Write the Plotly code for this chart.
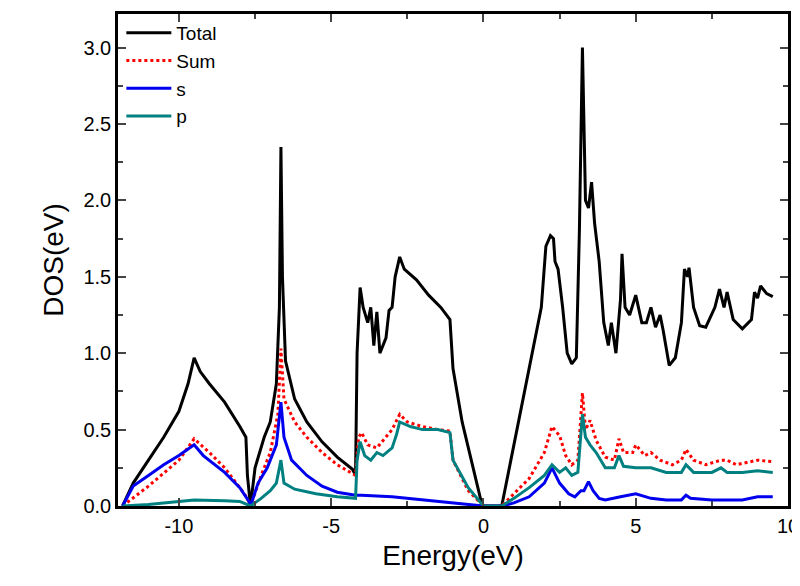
import plotly.graph_objects as go

# energy grids and DOS values
total_x = [-11.85, -11.5, -11, -10.5, -10, -9.7, -9.5, -9.3, -9, -8.5, -8, -7.8, -7.75, -7.65,
           -7.5, -7.2, -7.0, -6.8, -6.7, -6.65, -6.6, -6.5, -6.2, -5.8, -5.3, -4.8, -4.3, -4.2,
           -4.15, -4.05, -3.95, -3.8, -3.7, -3.6, -3.5, -3.4, -3.2, -3.1, -3.0, -2.9, -2.75, -2.6,
           -2.2, -1.8, -1.4, -1.1, -1.0, -0.7, -0.4, -0.1, 0, 0.6, 0.7, 1.0, 1.3, 1.6, 1.9, 2.05,
           2.2, 2.3, 2.35, 2.45, 2.6, 2.75, 2.9, 3.05, 3.15, 3.25, 3.35, 3.45, 3.55, 3.65, 3.8,
           3.95, 4.1, 4.2, 4.35, 4.5, 4.55, 4.65, 4.8, 5.0, 5.2, 5.35, 5.5, 5.65, 5.8, 5.9, 6.1,
           6.3, 6.5, 6.6, 6.7, 6.75, 6.9, 7.1, 7.3, 7.6, 7.75, 7.9, 8.0, 8.2, 8.5, 8.8, 8.9, 9.0,
           9.1, 9.3, 9.5]
total_y = [0, 0.15, 0.3, 0.45, 0.62, 0.8, 0.97, 0.88, 0.8, 0.68, 0.52, 0.45, 0.2, 0,
           0.25, 0.45, 0.55, 0.8, 1.3, 2.35, 1.5, 0.95, 0.7, 0.55, 0.42, 0.32, 0.24, 0.2,
           1.0, 1.43, 1.3, 1.2, 1.3, 1.05, 1.27, 1.0, 1.1, 1.28, 1.3, 1.5, 1.63, 1.55,
           1.48, 1.38, 1.3, 1.22, 0.9, 0.55, 0.3, 0.05, 0, 0, 0.1, 0.4, 0.7, 1.0, 1.3, 1.7,
           1.77, 1.75, 1.6, 1.55, 1.3, 1.0, 0.93, 0.97, 1.8, 3.0, 2.0, 1.95, 2.12, 1.85, 1.6,
           1.2, 1.05, 1.2, 1.0, 1.35, 1.65, 1.3, 1.25, 1.38, 1.2, 1.2, 1.3, 1.17, 1.25, 1.15, 0.92,
           0.97, 1.2, 1.55, 1.5, 1.56, 1.3, 1.18, 1.17, 1.3, 1.42, 1.3, 1.4, 1.22, 1.16, 1.22, 1.4, 1.36,
           1.44, 1.39, 1.37]

sum_x = [-11.85, -11, -10, -9.5, -9, -8.5, -8, -7.75, -7.65, -7.3, -7.0, -6.75, -6.65, -6.55,
         -6.2, -5.8, -5.3, -4.8, -4.2, -4.1, -4.0, -3.8, -3.5, -3.3, -3.0, -2.75, -2.5, -2,
         -1.5, -1.1, -1.0, -0.5, 0, 0.6, 1.0, 1.5, 2.0, 2.25, 2.5, 2.7, 2.9, 3.1, 3.25, 3.35,
         3.5, 3.7, 4.0, 4.3, 4.45, 4.6, 4.9, 5.0, 5.3, 5.5, 5.8, 6.2, 6.5, 6.65, 6.9, 7.3, 7.8,
         8.0, 8.3, 8.7, 9.0, 9.5]
sum_y = [0, 0.13, 0.3, 0.44, 0.35, 0.25, 0.12, 0.05, 0, 0.2, 0.35, 0.6, 1.03, 0.7,
         0.55, 0.45, 0.35, 0.27, 0.2, 0.45, 0.48, 0.4, 0.38, 0.43, 0.5, 0.6, 0.55, 0.52,
         0.5, 0.49, 0.3, 0.1, 0, 0, 0.08, 0.18, 0.35, 0.52, 0.46, 0.33, 0.27, 0.3, 0.74, 0.5,
         0.56, 0.43, 0.32, 0.3, 0.44, 0.35, 0.35, 0.4, 0.33, 0.35, 0.3, 0.27, 0.3, 0.37, 0.3, 0.27, 0.3,
         0.3, 0.27, 0.29, 0.3, 0.29]

s_x = [-11.85, -11.5, -11, -10.5, -10, -9.5, -9.2, -8.5, -8.0, -7.7, -7.65, -7.4, -7.1, -6.8,
       -6.65, -6.55, -6.3, -5.8, -5.3, -4.8, -4.2, -4.0, -3, -2, -1, 0, 0.6, 1.0, 1.5, 2.0,
       2.25, 2.5, 2.8, 3.0, 3.2, 3.3, 3.45, 3.6, 3.8, 4.0, 4.5, 5.0, 5.5, 6.0, 6.5, 6.65, 6.8,
       7.5, 8.5, 9.0, 9.5]
s_y = [0, 0.13, 0.2, 0.27, 0.33, 0.4, 0.33, 0.22, 0.12, 0.03, 0, 0.15, 0.25, 0.4,
       0.68, 0.45, 0.3, 0.2, 0.13, 0.09, 0.07, 0.07, 0.06, 0.04, 0.02, 0, 0, 0.02, 0.06, 0.15,
       0.25, 0.15, 0.08, 0.06, 0.1, 0.1, 0.16, 0.1, 0.05, 0.04, 0.06, 0.08, 0.05, 0.04, 0.04, 0.07, 0.05,
       0.04, 0.04, 0.06, 0.06]

p_x = [-11.85, -11, -10, -9.5, -8.5, -8, -7.65, -7.3, -7.0, -6.8, -6.65, -6.55, -6.2, -5.5,
       -4.8, -4.2, -4.15, -4.05, -3.9, -3.7, -3.5, -3.3, -3.0, -2.85, -2.75, -2.4, -2.0, -1.5,
       -1.1, -1.0, -0.5, 0, 0.6, 1.0, 1.5, 2.0, 2.25, 2.5, 2.7, 2.9, 3.1, 3.25, 3.35, 3.5, 3.7,
       4.0, 4.3, 4.45, 4.6, 5.0, 5.5, 6.0, 6.5, 6.65, 6.9, 7.5, 7.8, 8.0, 8.5, 9.0, 9.5]
p_y = [0, 0.01, 0.03, 0.04, 0.035, 0.03, 0, 0.05, 0.1, 0.15, 0.3, 0.15, 0.11, 0.08,
       0.06, 0.05, 0.3, 0.42, 0.33, 0.3, 0.35, 0.33, 0.38, 0.47, 0.55, 0.52, 0.5, 0.5,
       0.48, 0.3, 0.12, 0, 0, 0.05, 0.12, 0.2, 0.27, 0.22, 0.25, 0.2, 0.22, 0.6, 0.45, 0.4, 0.35,
       0.25, 0.25, 0.33, 0.26, 0.25, 0.25, 0.22, 0.22, 0.27, 0.22, 0.22, 0.25, 0.22, 0.22, 0.23, 0.22]

x_ticks = [-10, -5, 0, 5, 10]
x_ticktext = ["-10", "-5", "0", "5", "10"]
y_ticks = [0, 0.5, 1, 1.5, 2, 2.5, 3]

fig = go.Figure()
fig.add_trace(go.Scatter(x=total_x, y=total_y, name="Total", mode="lines",
                         line=dict(color="black", width=3)))
fig.add_trace(go.Scatter(x=sum_x, y=sum_y, name="Sum", mode="lines",
                         line=dict(color="#ff0000", width=3, dash="dot")))
fig.add_trace(go.Scatter(x=s_x, y=s_y, name="s", mode="lines",
                         line=dict(color="#0000ee", width=3)))
fig.add_trace(go.Scatter(x=p_x, y=p_y, name="p", mode="lines",
                         line=dict(color="#008080", width=3)))

axis_common = dict(showline=True, linecolor="black", linewidth=2.5, mirror="ticks",
                   ticks="inside", ticklen=8, tickwidth=2, showgrid=False, zeroline=False,
                   tickfont=dict(size=20, color="black"), automargin=False)
fig.update_layout(
    width=800, height=586, plot_bgcolor="white", paper_bgcolor="white",
    font=dict(family="Liberation Sans, Arial", color="black"),
    margin=dict(l=110, r=20, t=6, b=88),
    xaxis=dict(range=[-12, 10], tickvals=x_ticks, ticktext=x_ticktext,
               minor=dict(ticks="inside", ticklen=5, tickwidth=2, dtick=2.5),
               title=dict(text="Energy(eV)", font=dict(size=28), standoff=10),
               **axis_common),
    yaxis=dict(range=[0, 3.22], tickvals=y_ticks, tickformat=".1f",
               minor=dict(ticks="inside", ticklen=5, tickwidth=2, dtick=0.25),
               title=dict(text="DOS(eV)", font=dict(size=28), standoff=12),
               **axis_common),
    legend=dict(x=0.005, y=1.0, xanchor="left", yanchor="top", bgcolor="rgba(0,0,0,0)",
                font=dict(size=19), tracegroupgap=0, itemwidth=45),
    showlegend=True,
)

fig.write_html("out.html")
